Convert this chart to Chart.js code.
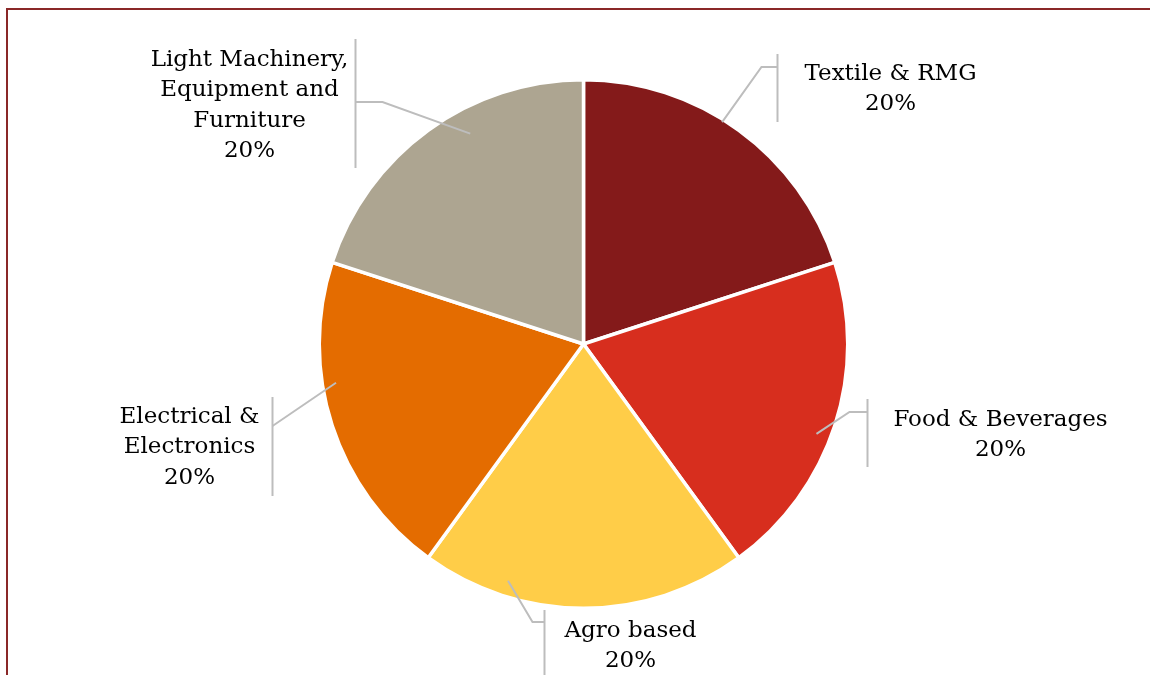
<!DOCTYPE html>
<html>
<head>
<meta charset="utf-8">
<style>
  html, body { margin: 0; padding: 0; background: #ffffff; overflow: hidden; }
  #wrap { position: relative; width: 1150px; height: 675px; }
  #frame { position: absolute; left: 6px; top: 8px; width: 1300px; height: 900px;
           border: 2px solid #8a2828; box-sizing: border-box; pointer-events: none; }
  canvas { position: absolute; left: 0; top: 0; }
</style>
<script src="https://cdn.jsdelivr.net/npm/chart.js@4/dist/chart.umd.min.js"></script>
</head>
<body>
<div id="wrap">
  <canvas id="pie" width="1150" height="675"></canvas>
  <div id="frame"></div>
</div>
<script>
// Sector shares (percent)
const categories = [
  'Textile & RMG',
  'Food & Beverages',
  'Agro based',
  'Electrical & Electronics',
  'Light Machinery, Equipment and Furniture'
];
const shares = [20, 20, 20, 20, 20];
// Label text split into lines
const labelLines = [
  ['Textile & RMG'],
  ['Food & Beverages'],
  ['Agro based'],
  ['Electrical &', 'Electronics'],
  ['Light Machinery,', 'Equipment and', 'Furniture']
];
const sliceColors = ['#841a1a', '#d72e1e', '#ffcd48', '#e46c00', '#ada591'];

// Callout placement, relative to the pie centre (px); shift in degrees from slice mid-angle
const calloutLayout = [
  { shift: -4,   depth: 0.99,  elbow: [178, -277], bar: [194, -290, -222], text: [307, -270] },
  { shift: 3.1,  depth: 0.945, elbow: [266, 68],   bar: [284, 55, 123],    text: [417, 76] },
  { shift: 17.7, depth: 0.94,  elbow: [-51, 278],  bar: [-39, 266, 360],   text: [47, 287] },
  { shift: 9.1,  depth: 0.948, elbow: [-311, 82],  bar: [-311, 53, 152],   text: [-394, 73] },
  { shift: 7.7,  depth: 0.904, elbow: [-201, -242],bar: [-228, -305, -176],text: [-334, -284] }
];

const FONT = '23px "DejaVu Serif"';
const LINE_H = 30.5;

const calloutPlugin = {
  id: 'callouts',
  afterDatasetsDraw(chart) {
    const ctx = chart.ctx;
    const meta = chart.getDatasetMeta(0);
    const total = shares.reduce((a, b) => a + b, 0);
    meta.data.forEach((arc, i) => {
      const p = arc.getProps(['x', 'y', 'startAngle', 'endAngle', 'outerRadius'], true);
      const cx = p.x, cy = p.y, r = p.outerRadius;
      const L = calloutLayout[i];
      const mid = (p.startAngle + p.endAngle) / 2 + L.shift * Math.PI / 180;
      const sx = cx + Math.cos(mid) * r * L.depth;
      const sy = cy + Math.sin(mid) * r * L.depth;
      const ex = cx + L.elbow[0], ey = cy + L.elbow[1];
      const bx = cx + L.bar[0];
      ctx.save();
      ctx.strokeStyle = '#bdbdbd';
      ctx.lineWidth = 2;
      ctx.beginPath();
      ctx.moveTo(sx, sy);
      ctx.lineTo(ex, ey);
      ctx.lineTo(bx, ey);
      ctx.stroke();
      ctx.beginPath();
      ctx.moveTo(bx, cy + L.bar[1]);
      ctx.lineTo(bx, cy + L.bar[2]);
      ctx.stroke();
      // text
      ctx.fillStyle = '#000000';
      ctx.font = FONT;
      ctx.textAlign = 'center';
      ctx.textBaseline = 'middle';
      const pct = Math.round(shares[i] / total * 100) + '%';
      const lines = labelLines[i].concat([pct]);
      lines.forEach((t, k) => {
        ctx.fillText(t, cx + L.text[0], cy + L.text[1] + k * LINE_H);
      });
      ctx.restore();
    });
  }
};

new Chart(document.getElementById('pie'), {
  type: 'pie',
  data: {
    labels: categories,
    datasets: [{
      data: shares,
      backgroundColor: sliceColors,
      borderColor: '#ffffff',
      borderWidth: 3.5
    }]
  },
  options: {
    responsive: false,
    animation: false,
    layout: { padding: { left: 17, right: 0, top: 78, bottom: 65 } },
    plugins: {
      legend: { display: false },
      tooltip: { enabled: false }
    }
  },
  plugins: [calloutPlugin]
});
</script>
</body>
</html>
